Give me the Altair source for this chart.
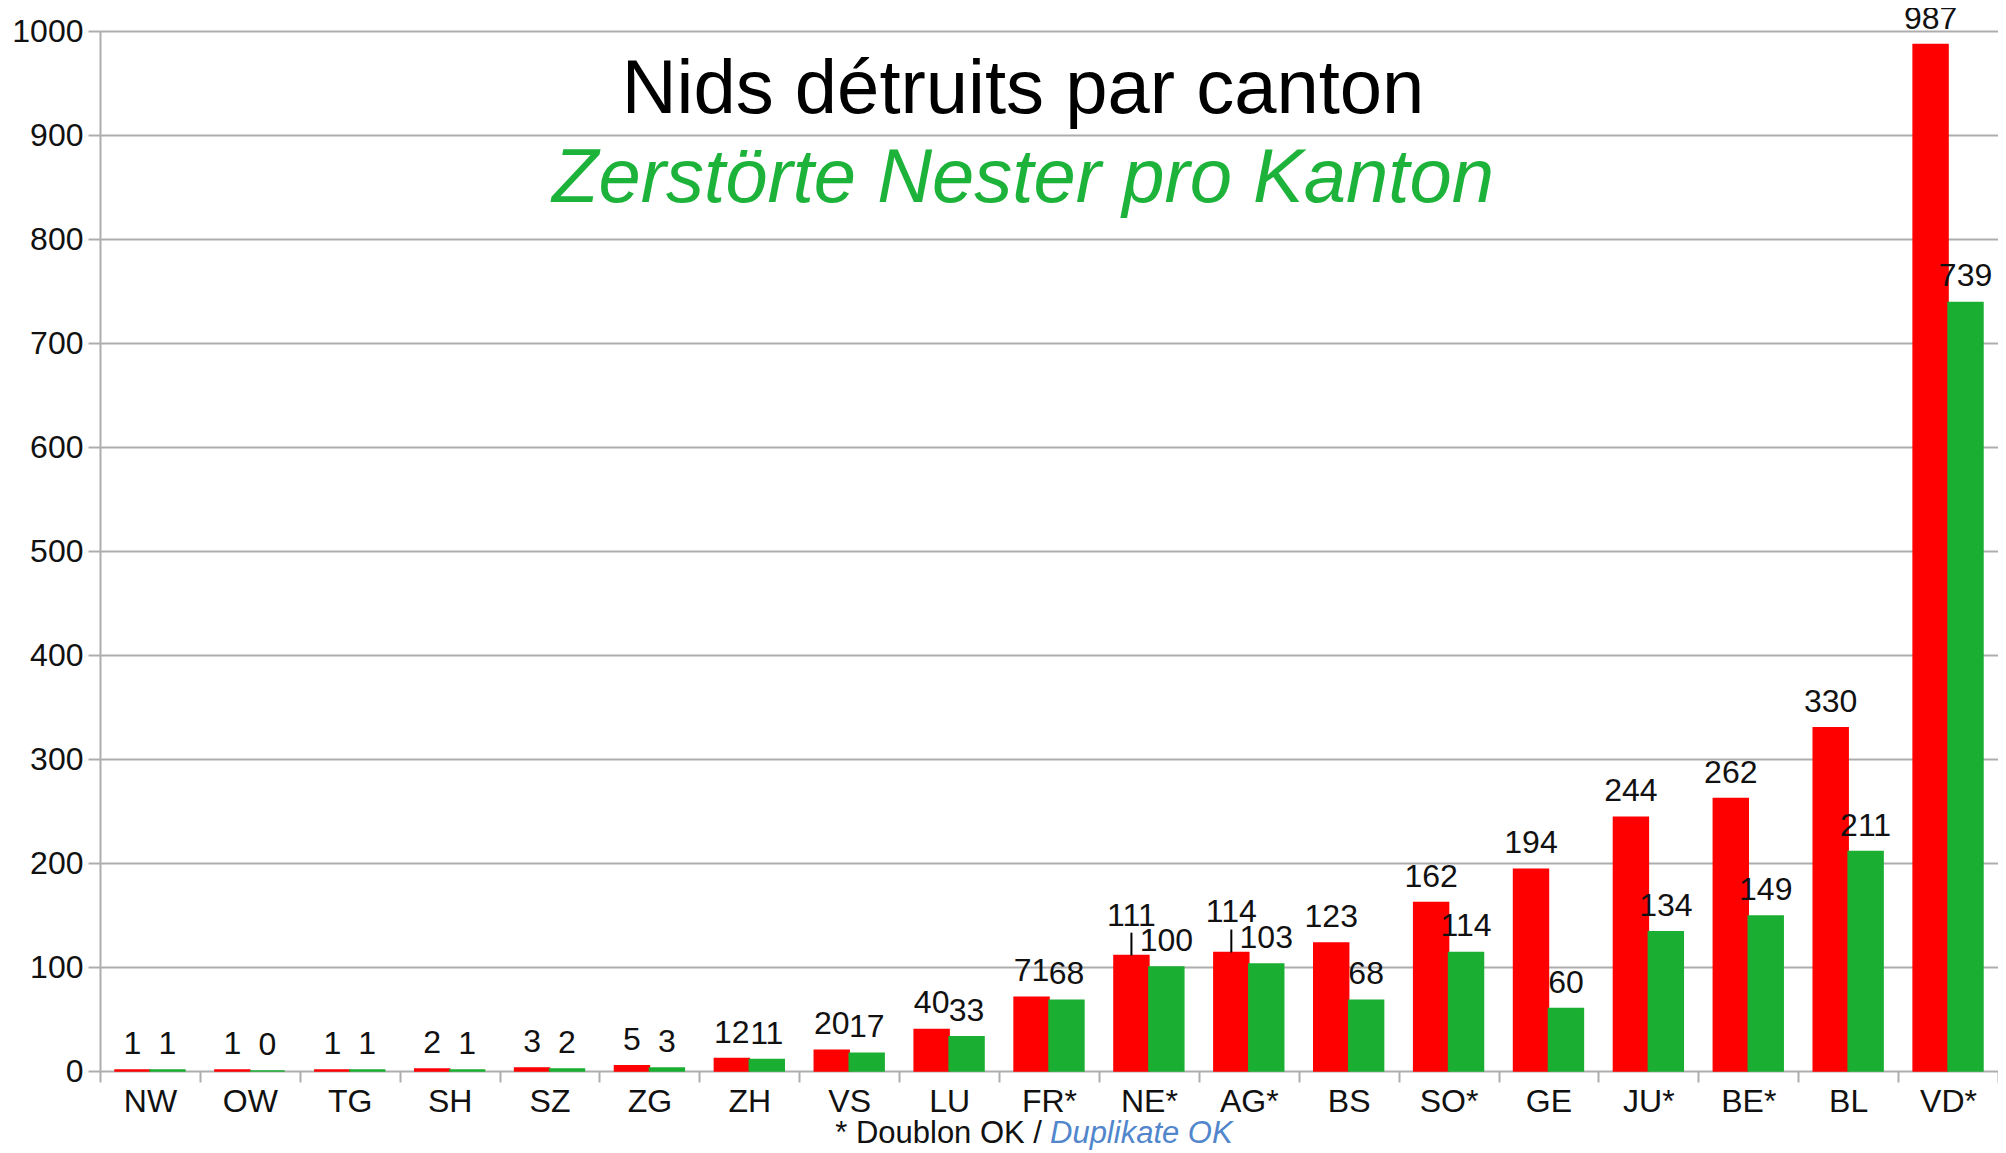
import altair as alt
import pandas as pd

# ---- data ----
cantons = ["NW", "OW", "TG", "SH", "SZ", "ZG", "ZH", "VS", "LU", "FR*",
           "NE*", "AG*", "BS", "SO*", "GE", "JU*", "BE*", "BL", "VD*"]
red_values = [1, 1, 1, 2, 3, 5, 12, 20, 40, 71, 111, 114, 123, 162, 194, 244, 262, 330, 987]
green_values = [1, 0, 1, 1, 2, 3, 11, 17, 33, 68, 100, 103, 68, 114, 60, 134, 149, 211, 739]
series_names = ["série A", "série B"]
series_colors = ["#FF0000", "#1AAF32"]
y_ticks = [0, 100, 200, 300, 400, 500, 600, 700, 800, 900, 1000]
raised_labels = ["NE*", "AG*"]   # red labels lifted above a leader line

title_fr = "Nids détruits par canton"
title_de = "Zerstörte Nester pro Kanton"
foot_fr = "* Doublon OK /"
foot_de = "Duplikate OK"

n = len(cantons)
df = pd.DataFrame({
    "canton": cantons * 2,
    "serie": [series_names[0]] * n + [series_names[1]] * n,
    "valeur": red_values + green_values,
})

FONT = "Liberation Sans"
GRID = "#ADADAD"
TXT = "#111111"

x = alt.X(
    "canton:N", sort=cantons, title=None,
    scale=alt.Scale(paddingInner=0, paddingOuter=0),
    axis=alt.Axis(labelAngle=0, labelFontSize=32, labelFont=FONT, labelColor=TXT,
                  labelPadding=4, tickSize=11, tickColor=GRID, tickWidth=2,
                  tickBand="extent", domain=False, grid=False),
)
xo = alt.XOffset("serie:N", sort=series_names,
                 scale=alt.Scale(paddingInner=0, paddingOuter=0.43))
y = alt.Y(
    "valeur:Q", title=None,
    scale=alt.Scale(domain=[0, 1000], nice=False),
    axis=alt.Axis(values=y_ticks, format="d", labelFontSize=32, labelFont=FONT,
                  labelColor=TXT, labelPadding=5, tickSize=12, tickColor=GRID,
                  tickWidth=2, gridColor=GRID, gridWidth=2, domainColor=GRID,
                  domainWidth=2),
)
color = alt.Color("serie:N", scale=alt.Scale(domain=series_names, range=series_colors),
                  legend=None)
stroke = alt.Stroke("serie:N", scale=alt.Scale(domain=series_names, range=series_colors),
                    legend=None)

bars = alt.Chart(df).mark_bar(strokeWidth=1.5).encode(
    x=x, xOffset=xo, y=y, color=color, stroke=stroke
)

is_raised = alt.FieldOneOfPredicate(field="canton", oneOf=raised_labels)
is_red = alt.FieldEqualPredicate(field="serie", equal=series_names[0])

labels = alt.Chart(df).transform_filter(
    ~(alt.datum.canton == "NE*") & ~(alt.datum.canton == "AG*") | (alt.datum.serie != series_names[0])
).mark_text(
    baseline="bottom", dy=-9, fontSize=32, font=FONT, color=TXT
).encode(x=x, xOffset=xo, y=y, text="valeur:Q")

labels_up = alt.Chart(df).transform_filter(is_raised).transform_filter(is_red).mark_text(
    baseline="bottom", dy=-23, fontSize=32, font=FONT, color=TXT
).encode(x=x, xOffset=xo, y=y, text="valeur:Q")

leaders = alt.Chart(df).transform_filter(is_raised).transform_filter(is_red).transform_calculate(
    haut="datum.valeur + 22"
).mark_rule(color="#000000", strokeWidth=2).encode(
    x=x, xOffset=xo, y=y, y2="haut:Q"
)

t1 = alt.Chart(pd.DataFrame({"t": [title_fr]})).mark_text(
    fontSize=76, font=FONT, color="#000000", align="center", baseline="alphabetic"
).encode(text="t:N", x=alt.value(923), y=alt.value(82))

t2 = alt.Chart(pd.DataFrame({"t": [title_de]})).mark_text(
    fontSize=76, font=FONT, fontStyle="italic", color="#1DB33A", align="center",
    baseline="alphabetic"
).encode(text="t:N", x=alt.value(923), y=alt.value(171))

f1 = alt.Chart(pd.DataFrame({"t": [foot_fr]})).mark_text(
    fontSize=31, font=FONT, color=TXT, align="right", baseline="alphabetic"
).encode(text="t:N", x=alt.value(942), y=alt.value(1112))

f2 = alt.Chart(pd.DataFrame({"t": [foot_de]})).mark_text(
    fontSize=31, font=FONT, fontStyle="italic", color="#5286CC", align="left",
    baseline="alphabetic"
).encode(text="t:N", x=alt.value(950), y=alt.value(1112))

chart = alt.layer(bars, leaders, labels, labels_up, t1, t2, f1, f2).properties(
    width=1898, height=1040,
    autosize=alt.AutoSizeParams(type="none"),
    padding={"left": 92, "top": 23, "right": 0, "bottom": 80},
).configure_view(strokeWidth=0)

chart.save("out.html", embed_options={"renderer": "svg", "actions": False})
